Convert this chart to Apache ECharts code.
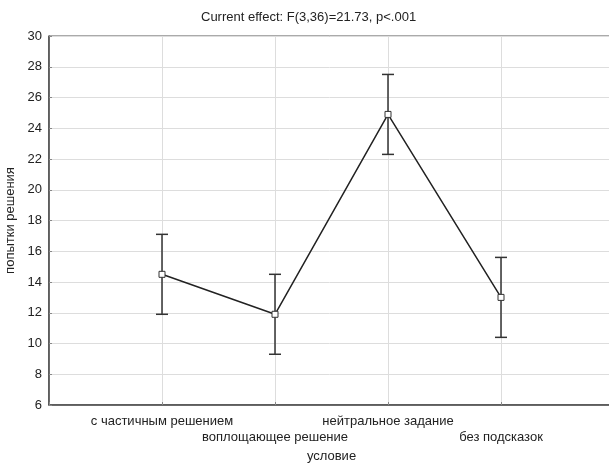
<!DOCTYPE html>
<html>
<head>
<meta charset="utf-8">
<script src="https://cdn.jsdelivr.net/npm/echarts@6/dist/echarts.min.js"></script>
<style>
    html, body { margin: 0; padding: 0; background: #fff; }
    #chart { width: 609px; height: 463px; }
</style>
</head>
<body>
<div id="chart"></div>
<script>
    // условия эксперимента
    var conditions = ['с частичным решением', 'воплощающее решение', 'нейтральное задание', 'без подсказок'];
    // средние и границы доверительного интервала
    var means = [14.5, 11.9, 24.9, 13.0];
    var lower = [11.9, 9.3, 22.3, 10.4];
    var upper = [17.1, 14.5, 27.5, 15.6];

    var lineData = [];
    var barData = [];
    for (var i = 0; i < conditions.length; i++) {
        lineData.push([i + 1, means[i]]);
        barData.push([i + 1, lower[i], upper[i]]);
    }

    var chart = echarts.init(document.getElementById('chart'));
    var font = 'Liberation Sans, Arial, sans-serif';

    chart.setOption({
        animation: false,
        textStyle: {fontFamily: font},
        title: {
            text: 'Current effect: F(3,36)=21.73, p<.001',
            left: 196,
            top: 6,
            textStyle: {fontSize: 13, fontWeight: 'normal', color: '#222', fontFamily: font}
        },
        // правый край графика обрезан на исходной картинке
        grid: {
            left: 49, width: 565, top: 36, height: 369, outerBoundsMode: 'none',
            show: true, borderColor: '#555', borderWidth: 1
        },
        xAxis: {
            type: 'value',
            min: 0,
            max: 5,
            interval: 1,
            name: 'условие',
            nameLocation: 'middle',
            nameGap: 44,
            nameTextStyle: {fontSize: 13, color: '#222'},
            axisLine: {lineStyle: {color: '#444', width: 1.5}},
            axisTick: {show: true, inside: true, length: 3, lineStyle: {color: '#888'}},
            splitLine: {show: true, lineStyle: {color: '#ddd'}},
            axisLabel: {
                fontSize: 13,
                color: '#222',
                margin: 8,
                lineHeight: 16,
                formatter: function (v) {
                    var idx = Math.round(v) - 1;
                    if (idx < 0 || idx >= conditions.length) return '';
                    return idx % 2 === 1 ? '\n' + conditions[idx] : conditions[idx];
                }
            }
        },
        yAxis: {
            type: 'value',
            min: 6,
            max: 30,
            interval: 2,
            name: 'попытки решения',
            nameLocation: 'middle',
            nameGap: 28,
            nameTextStyle: {fontSize: 13, color: '#222'},
            axisLine: {show: true, lineStyle: {color: '#444', width: 1.5}},
            axisTick: {show: true, inside: true, length: 3, lineStyle: {color: '#888'}},
            splitLine: {show: true, lineStyle: {color: '#ddd'}},
            axisLabel: {fontSize: 13, color: '#222', margin: 7}
        },
        series: [
            {
                // усы ошибок
                type: 'custom',
                data: barData,
                z: 3,
                renderItem: function (params, api) {
                    var x = api.value(0);
                    var lo = api.coord([x, api.value(1)]);
                    var hi = api.coord([x, api.value(2)]);
                    var w = 6;
                    var style = {stroke: '#333', lineWidth: 1.5, fill: null};
                    return {
                        type: 'group',
                        children: [
                            {type: 'line', shape: {x1: hi[0], y1: hi[1], x2: lo[0], y2: lo[1]}, style: style},
                            {type: 'line', shape: {x1: hi[0] - w, y1: hi[1], x2: hi[0] + w, y2: hi[1]}, style: style},
                            {type: 'line', shape: {x1: lo[0] - w, y1: lo[1], x2: lo[0] + w, y2: lo[1]}, style: style}
                        ]
                    };
                }
            },
            {
                type: 'line',
                data: lineData,
                z: 4,
                symbol: 'rect',
                symbolSize: 6,
                itemStyle: {color: '#fff', borderColor: '#333', borderWidth: 1},
                lineStyle: {color: '#222', width: 1.5}
            }
        ]
    });
</script>
</body>
</html>
